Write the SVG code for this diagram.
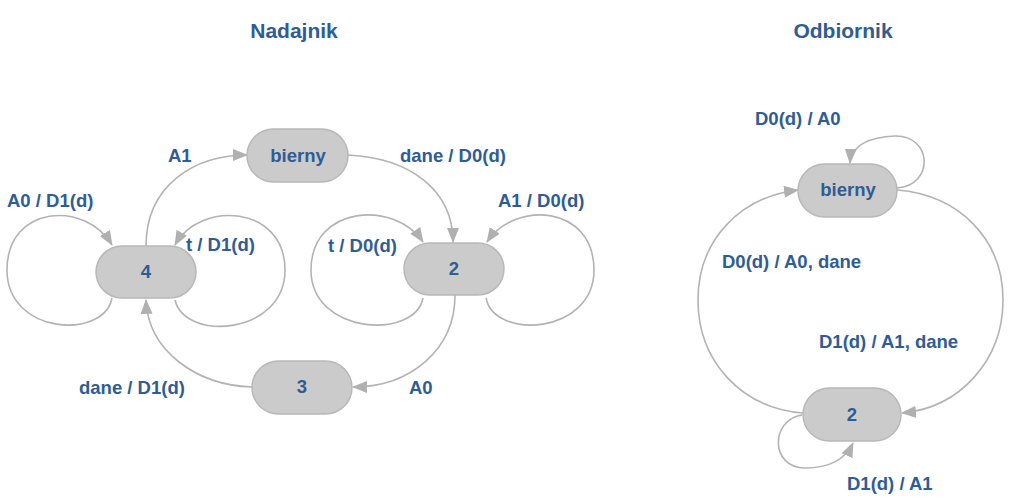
<svg xmlns="http://www.w3.org/2000/svg" width="1028" height="498" viewBox="0 0 1028 498">
<style>
.node rect{fill:#cbcbcb;stroke:#b8b8b8;stroke-width:1.5}
.node text{font-family:"Liberation Sans",Arial,sans-serif;font-weight:bold;font-size:18.5px;fill:#2f5c94;text-anchor:middle}
.title{font-family:"Liberation Sans",Arial,sans-serif;font-weight:bold;font-size:21px;fill:#2f5c94;text-anchor:middle}
.lbl{font-family:"Liberation Sans",Arial,sans-serif;font-weight:bold;font-size:18.5px;fill:#2f5c94}
#edges path{fill:none;stroke:#b3b3b3;stroke-width:1.6;marker-end:url(#arr)}
</style>
<defs>
<marker id="arr" markerUnits="userSpaceOnUse" markerWidth="15" markerHeight="12" viewBox="0 0 15 12" refX="14" refY="6" orient="auto">
<path d="M0,0 L15,6 L0,12 z" fill="#b0b0b0"/>
</marker>
</defs>
<rect width="1028" height="498" fill="#ffffff"/>
<text class="title" x="294" y="38">Nadajnik</text>
<text class="title" x="843" y="38">Odbiornik</text>
<g id="edges">
<path d="M146,246 C146,185 195,155 247,155"/>
<path d="M348,155 C410,158 453,190 453,242"/>
<path d="M423,298 C415,340 311,335 311,270 C311,205 395,200 423,242"/>
<path d="M486,298 C494,340 594,335 594,270 C594,205 515,200 487,242"/>
<path d="M112,298 C104,340 7,335 7,270 C7,205 85,200 112,245"/>
<path d="M175,300 C185,342 285,335 285,270 C285,205 200,200 175,245"/>
<path d="M455,295 C455,350 410,387 353,387"/>
<path d="M252,387 C195,385 148,350 146,300"/>
<path d="M897,188 C935,185 932,135 895,136 C870,137 851,145 850,163"/>
<path d="M897,190 C960,195 1003,240 1003,300 C1003,360 960,408 902,413"/>
<path d="M803,413 C740,408 698,360 698,300 C698,240 740,197 798,190"/>
<path d="M802,415 C770,420 770,468 805,468 C830,468 845,460 853,443"/>
</g>
<g id="labels">
<text class="lbl" x="168" y="162">A1</text>
<text class="lbl" x="400" y="162">dane / D0(d)</text>
<text class="lbl" x="498" y="207">A1 / D0(d)</text>
<text class="lbl" x="328" y="252">t / D0(d)</text>
<text class="lbl" x="7" y="207">A0 / D1(d)</text>
<text class="lbl" x="186" y="251">t / D1(d)</text>
<text class="lbl" x="79" y="394">dane / D1(d)</text>
<text class="lbl" x="409" y="394">A0</text>
<text class="lbl" x="755" y="125">D0(d) / A0</text>
<text class="lbl" x="722" y="268">D0(d) / A0, dane</text>
<text class="lbl" x="819" y="348">D1(d) / A1, dane</text>
<text class="lbl" x="847" y="490">D1(d) / A1</text>
</g>
<g id="n_bierny_l" class="node"><rect x="247" y="129" width="101" height="53" rx="26.5"/><text x="298" y="162">bierny</text></g>
<g id="n_4" class="node"><rect x="96" y="246" width="100" height="52" rx="26"/><text x="146" y="278">4</text></g>
<g id="n_2_l" class="node"><rect x="404" y="243" width="100" height="52" rx="26"/><text x="454" y="275">2</text></g>
<g id="n_3" class="node"><rect x="252" y="361" width="100" height="53" rx="26.5"/><text x="302" y="393">3</text></g>
<g id="n_bierny_r" class="node"><rect x="798" y="164" width="99" height="53" rx="26.5"/><text x="848" y="196">bierny</text></g>
<g id="n_2_r" class="node"><rect x="803" y="388" width="98" height="53" rx="26.5"/><text x="852" y="421">2</text></g>
</svg>
